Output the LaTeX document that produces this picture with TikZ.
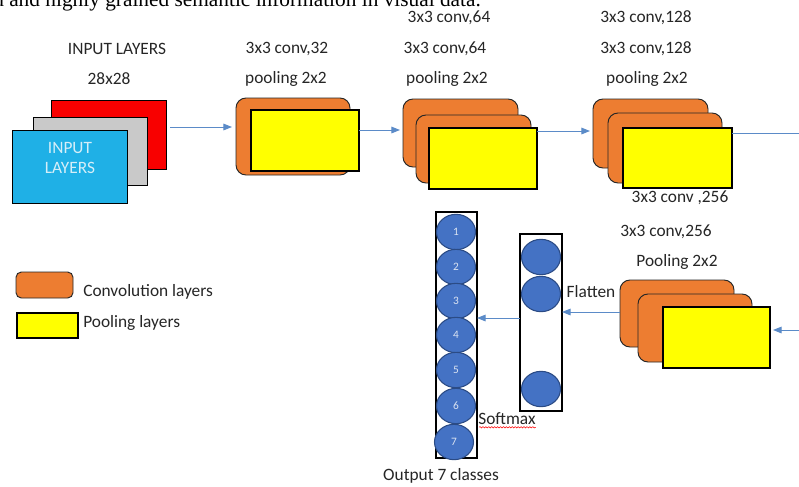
\documentclass[tikz,border=0pt]{standalone}
\usepackage{fontspec}
\setmainfont{Carlito}
\newfontfamily\seriffont{Liberation Serif}
\usetikzlibrary{shapes.geometric,arrows.meta,decorations.pathmorphing,calc}
\definecolor{org}{HTML}{ED7D31}
\definecolor{ylw}{HTML}{FFFF00}
\definecolor{inblue}{HTML}{1FB0E6}
\definecolor{ingray}{HTML}{C9C9C9}
\definecolor{inred}{HTML}{F80000}
\definecolor{nfill}{HTML}{4472C4}
\definecolor{nbord}{HTML}{2B4B85}
\definecolor{arrowc}{HTML}{5B8BC8}
\definecolor{intext}{HTML}{D6EEF8}
\definecolor{numtext}{HTML}{DCE4F2}
\definecolor{lbltext}{HTML}{262626}
\newcommand\shapebox[6]{\node[#1, minimum width={(#4-(#2))*0.75pt}, minimum height={(#5-(#3))*0.75pt}] (#6) at ({(#2+#4)/2},{(#3+#5)/2}) {};}
\begin{document}
\begin{tikzpicture}[x=0.75pt,y=-0.75pt,
  lbl/.style={font=\fontsize{13}{15}\selectfont, text=lbltext, inner sep=0pt},
  flat/.style={rectangle, draw=black, line width=0.7pt, inner sep=0pt, outer sep=0pt},
  conv/.style={rectangle, draw=black!85, fill=org, rounded corners=7.5pt, line width=0.7pt, inner sep=0pt, outer sep=0pt},
  pool/.style={flat, fill=ylw, line width=0.9pt},
  arr/.style={draw=arrowc, line width=0.75pt, -{Triangle[length=6.5pt,width=5pt]}},
  plain/.style={draw=arrowc, line width=0.75pt},
  colbox/.style={rectangle, draw=black, line width=0.8pt, fill=white, inner sep=0pt, outer sep=0pt},
  neuron/.style={ellipse, draw=nbord, fill=nfill, line width=0.8pt, minimum width=29.25pt, minimum height=26.5pt, inner sep=0pt, font=\fontsize{8.5}{9}\selectfont, text=numtext}]
\useasboundingbox (0,0) rectangle (799,486);
\clip (0,0) rectangle (799,486);
\fill[white] (0,0) rectangle (799,486);

% cut-off text line at the top
\node[anchor=base west, inner sep=0pt, font=\seriffont\fontsize{16}{18}\selectfont] (topline) at (-7,6) {d and highly grained semantic information in visual data.};

% input layers
\shapebox{flat, fill=inred}{51}{100}{166}{169}{red}
\shapebox{flat, fill=ingray}{33}{117}{147}{185}{gray}
\shapebox{flat, fill=inblue}{12}{130}{127}{203}{blue}
\node[lbl, text=intext, align=center, font=\fontsize{13}{15}\selectfont] (intxt) at (70,158) {INPUT\\LAYERS};
\node[lbl] (l1a) at (117,49) {INPUT LAYERS};
\node[lbl] (l1b) at (109,79) {28x28};

% block 1
\shapebox{conv}{236}{98}{350}{175}{b1c}
\shapebox{pool}{251}{110}{359}{171}{b1p}
\node[lbl] (l2a) at (287,49) {3x3 conv,32};
\node[lbl] (l2b) at (286,79) {pooling 2x2};

% block 2
\shapebox{conv}{403}{99}{518}{167}{b2c1}
\shapebox{conv}{416}{115}{531}{183}{b2c2}
\shapebox{pool}{429}{128}{537}{189}{b2p}
\node[lbl] (l3a) at (449,18) {3x3 conv,64};
\node[lbl] (l3b) at (445,49) {3x3 conv,64};
\node[lbl] (l3c) at (447,79) {pooling 2x2};

% block 3
\shapebox{conv}{593}{99}{708}{168}{b3c1}
\shapebox{conv}{608}{113}{722}{183}{b3c2}
\shapebox{pool}{623}{128}{732}{188}{b3p}
\node[lbl] (l4a) at (646,18) {3x3 conv,128};
\node[lbl] (l4b) at (646,49) {3x3 conv,128};
\node[lbl] (l4c) at (647,79) {pooling 2x2};

% block 4
\shapebox{conv}{620}{280}{734}{347}{b4c1}
\shapebox{conv}{638}{294}{752}{362}{b4c2}
\shapebox{pool}{663}{307}{770}{368}{b4p}
\node[lbl] (l5a) at (680,198) {3x3 conv ,256};
\node[lbl] (l5b) at (666,232) {3x3 conv,256};
\node[lbl] (l5c) at (677,262) {Pooling 2x2};

% flatten column
\shapebox{colbox}{520}{234}{562}{411}{fbox}
\node[neuron] (f1) at (541,257) {};
\node[neuron] (f2) at (541,294) {};
\node[neuron] (f3) at (541,389) {};
\node[lbl] (flat) at (591,292) {Flatten};

% output column
\shapebox{colbox}{436}{212}{477}{458}{obox}
\node[neuron] (o1) at (456,232) {1};
\node[neuron] (o2) at (456,267) {2};
\node[neuron] (o3) at (456,301) {3};
\node[neuron] (o4) at (456,335) {4};
\node[neuron] (o5) at (456,370) {5};
\node[neuron] (o6) at (456,406) {6};
\node[neuron] (o7) at (454,442) {7};
\node[lbl] (soft) at (507,419) {Softmax};
\draw[red, line width=0.4pt, decorate, decoration={snake, amplitude=0.5pt, segment length=2.2pt}]
  ($(soft.south west)+(1,2)$) -- ($(soft.south east)+(0,2)$);
\node[lbl] (outl) at (441,476) {Output 7 classes};

% legend
\shapebox{conv, rounded corners=4pt}{16}{272}{73}{298}{legc}
\shapebox{pool}{17}{313}{78}{338}{legp}
\node[lbl, anchor=west] (legct) at (83,292) {Convolution layers};
\node[lbl, anchor=west] (legpt) at (83,323) {Pooling layers};

% connectors
\coordinate (edge1) at (805,133);
\coordinate (edge2) at (805,330);
\draw[arr] ($(red.east |- 0,127)+(4,0)$) -- ($(b1c.west |- 0,127)+(-4,0)$);
\draw[arr] (b1p.east |- 0,130) -- ($(b2c1.west |- 0,130)+(-3,0)$);
\draw[arr] (b2p.east |- 0,131) -- ($(b3c1.west |- 0,131)+(-3,0)$);
\draw[plain] (b3p.east |- edge1) -- (edge1);
\draw[arr] (edge2) -- ($(b4p.east |- edge2)+(3,0)$);
\draw[arr] (b4c1.west |- 0,312) -- (fbox.east |- 0,312);
\draw[arr] (fbox.west |- 0,318) -- (obox.east |- 0,318);
\end{tikzpicture}
\end{document}
